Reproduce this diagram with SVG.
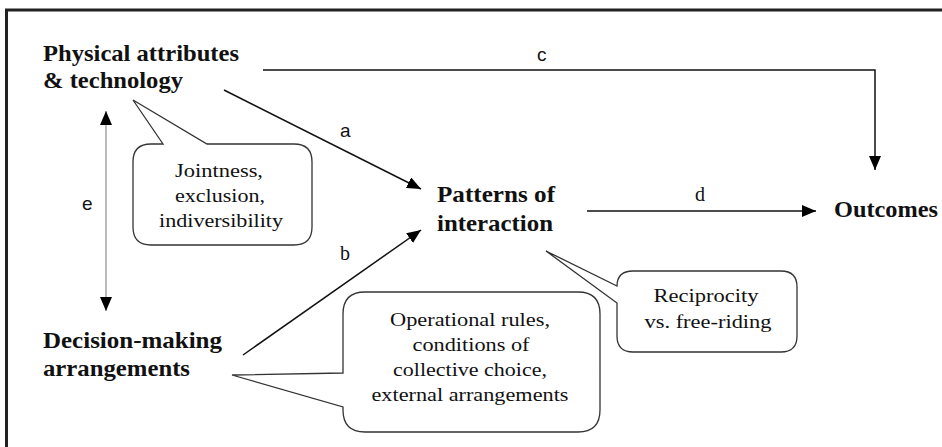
<svg xmlns="http://www.w3.org/2000/svg" width="942" height="447" viewBox="0 0 942 447">
<defs>
<marker id="arr" viewBox="0 0 14 12" refX="14" refY="6" markerWidth="14" markerHeight="12" markerUnits="userSpaceOnUse" orient="auto-start-reverse">
<path d="M0,0 L14,6 L0,12 Z" fill="#000"/>
</marker>
</defs>
<style>
.node{font-family:"Liberation Serif","Times New Roman",serif;font-weight:bold;font-size:23px;fill:#111}
.note{font-family:"Liberation Serif","Times New Roman",serif;font-size:18px;fill:#111;text-anchor:middle}
.lbl{font-family:"Liberation Sans",Arial,sans-serif;font-size:19px;fill:#111}
.lbls{font-family:"Liberation Serif","Times New Roman",serif;font-size:20px;fill:#111}
.conn{fill:none;stroke:#111;stroke-width:1.5}
.bubble{fill:#fff;stroke:#333;stroke-width:1.3}
</style>
<rect x="0" y="0" width="942" height="447" fill="#fff"/>
<path d="M6.5,447 L6.5,10 L942,10" fill="none" stroke="#222" stroke-width="3"/>

<g id="connectors">
<path class="conn" d="M263,70 L875,70 L875,170" marker-end="url(#arr)"/>
<path class="conn" d="M587,211 L816,211" marker-end="url(#arr)"/>
<path class="conn" d="M224,90 L421,189" marker-end="url(#arr)"/>
<path class="conn" d="M243,355 L421,230" marker-end="url(#arr)"/>
<path d="M106,111 L106,311" fill="none" stroke="#bbb" stroke-width="2" marker-start="url(#arr)" marker-end="url(#arr)"/>
<text class="lbl" x="537" y="61">c</text>
<text class="lbl" x="340" y="137">a</text>
<text class="lbls" x="340" y="260">b</text>
<text class="lbls" x="695" y="201">d</text>
<text class="lbl" x="82" y="210">e</text>
</g>

<g id="physical">
<text class="node" x="43" y="61" textLength="196" lengthAdjust="spacingAndGlyphs">Physical attributes</text>
<text class="node" x="43" y="88" textLength="140" lengthAdjust="spacingAndGlyphs">&amp; technology</text>
</g>

<g id="decision">
<text class="node" x="43" y="348" textLength="179" lengthAdjust="spacingAndGlyphs">Decision-making</text>
<text class="node" x="43" y="376" textLength="147" lengthAdjust="spacingAndGlyphs">arrangements</text>
</g>

<g id="patterns">
<text class="node" x="437" y="202" textLength="118" lengthAdjust="spacingAndGlyphs">Patterns of</text>
<text class="node" x="437" y="231" textLength="116" lengthAdjust="spacingAndGlyphs">interaction</text>
</g>

<g id="outcomes">
<text class="node" x="834" y="217" textLength="104" lengthAdjust="spacingAndGlyphs">Outcomes</text>
</g>

<g id="callout-jointness">
<path class="bubble" d="M133,100 L207,144 L294,144 Q312,144 312,162 L312,227 Q312,245 294,245 L151,245 Q133,245 133,227 L133,162 Q133,144 151,144 L163,144 Z"/>
<text class="note" x="219" y="177" textLength="88" lengthAdjust="spacingAndGlyphs">Jointness,</text>
<text class="note" x="220" y="202" textLength="90" lengthAdjust="spacingAndGlyphs">exclusion,</text>
<text class="note" x="221" y="227" textLength="124" lengthAdjust="spacingAndGlyphs">indiversibility</text>
</g>

<g id="callout-reciprocity">
<path class="bubble" d="M546,251 L617,303 L617,336 Q617,352 633,352 L781,352 Q797,352 797,336 L797,287 Q797,271 781,271 L633,271 Q617,271 617,286 Z"/>
<text class="note" x="706" y="302" textLength="105" lengthAdjust="spacingAndGlyphs">Reciprocity</text>
<text class="note" x="708" y="328" textLength="127" lengthAdjust="spacingAndGlyphs">vs. free-riding</text>
</g>

<g id="callout-rules">
<path class="bubble" d="M232,375 L343,407 L343,410 Q343,432 365,432 L578,432 Q600,432 600,410 L600,314 Q600,292 578,292 L365,292 Q343,292 343,314 L343,373 Z"/>
<text class="note" x="470" y="326" textLength="160" lengthAdjust="spacingAndGlyphs">Operational rules,</text>
<text class="note" x="471" y="351" textLength="117" lengthAdjust="spacingAndGlyphs">conditions of</text>
<text class="note" x="470" y="376" textLength="154" lengthAdjust="spacingAndGlyphs">collective choice,</text>
<text class="note" x="470" y="401" textLength="197" lengthAdjust="spacingAndGlyphs">external arrangements</text>
</g>
</svg>
